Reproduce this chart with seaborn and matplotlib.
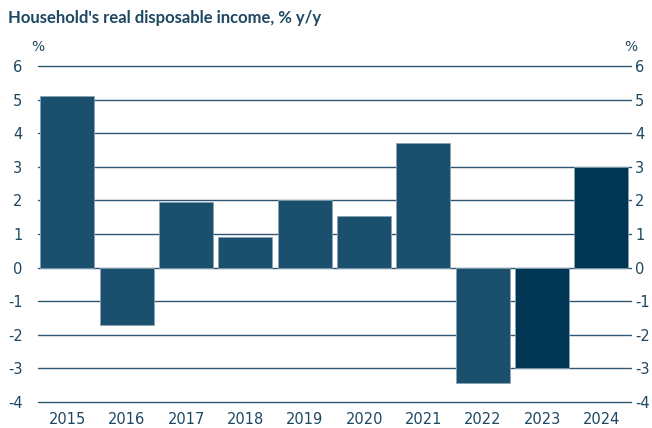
import matplotlib
matplotlib.use("Agg")
import matplotlib.pyplot as plt
import seaborn as sns
import pandas as pd

# ---- Data -------------------------------------------------------------------
years = ["2015", "2016", "2017", "2018", "2019", "2020", "2021", "2022", "2023", "2024"]
income_growth = [5.1, -1.7, 1.95, 0.9, 2.0, 1.52, 3.7, -3.45, -3.0, 3.0]
is_forecast = [False] * 8 + [True] * 2
y_ticks = list(range(-4, 7))

TEXT = "#1d4862"
BAR = "#1a4f6e"
BAR_FC = "#003653"
GRID = "#2c5672"

sns.set_theme(style="white")
plt.rcParams["font.family"] = ["DejaVu Sans"]

df = pd.DataFrame({"year": years, "value": income_growth,
                   "kind": ["forecast" if f else "actual" for f in is_forecast]})

fig = plt.figure(figsize=(6.52, 4.28), dpi=100)
ax = fig.add_axes([0.058, 0.061, 0.910, 0.785])

sns.barplot(data=df, x="year", y="value", hue="kind",
            palette={"actual": BAR, "forecast": BAR_FC}, dodge=False,
            saturation=1, width=0.91, edgecolor="#8aa3b3", linewidth=0.6,
            legend=False, ax=ax, zorder=3)

ax.set_ylim(-4, 6)
ax.set_xlim(-0.5, 9.5)
ax.set_yticks(y_ticks)
ax.set_yticklabels([str(v) for v in y_ticks])
ax.yaxis.grid(True, color=GRID, linewidth=1.0, zorder=0)
ax.set_axisbelow(True)
for gl in ax.get_ygridlines():
    gl.set_clip_on(False)
for s in ax.spines.values():
    s.set_visible(False)
ax.set_xlabel("")
ax.set_ylabel("")
ax.tick_params(axis="y", length=0, pad=11, labelsize=10.5, labelcolor=TEXT)
ax.tick_params(axis="x", length=0, pad=7.5, labelsize=10.5, labelcolor=TEXT)

# right-hand axis labels
ax2 = ax.twinx()
ax2.set_ylim(ax.get_ylim())
ax2.set_yticks(y_ticks)
ax2.set_yticklabels([str(v) for v in y_ticks])
ax2.tick_params(axis="y", length=0, pad=3, labelsize=10.5, labelcolor=TEXT)
ax2.grid(False)
for s in ax2.spines.values():
    s.set_visible(False)

fig.text(0.012, 0.958, "Household's real disposable income, % y/y", fontsize=12,
         fontweight="bold", family=["Lato", "DejaVu Sans"], color=TEXT,
         va="center", ha="left")
fig.text(0.058, 0.89, "%", fontsize=10, color=TEXT, ha="center", va="center")
fig.text(0.967, 0.89, "%", fontsize=10, color=TEXT, ha="center", va="center")

fig.savefig("out.png", dpi=100)
